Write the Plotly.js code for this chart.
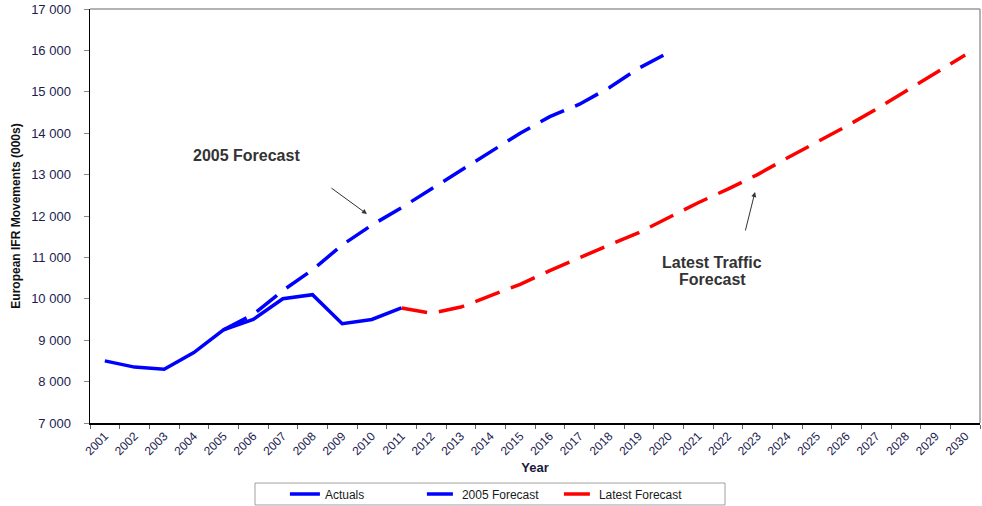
<!DOCTYPE html>
<html>
<head>
<meta charset="utf-8">
<script src="https://cdn.plot.ly/plotly-3.0.1.min.js"></script>
<style>html,body{margin:0;padding:0;background:#fff;}#chart{width:982px;height:506px;}</style>
</head>
<body>
<div id="chart"></div>
<script>
var years = ["2001","2002","2003","2004","2005","2006","2007","2008","2009","2010","2011","2012","2013","2014","2015","2016","2017","2018","2019","2020","2021","2022","2023","2024","2025","2026","2027","2028","2029","2030"];

var actualYears = ["2001","2002","2003","2004","2005","2006","2007","2008","2009","2010","2011"];
var actualValues = [8500, 8350, 8300, 8700, 9250, 9500, 10000, 10100, 9400, 9500, 9780];

var forecast2005Years = ["2005","2006","2007","2008","2009","2010","2011","2012","2013","2014","2015","2016","2017","2018","2019","2020"];
var forecast2005Values = [9250, 9620, 10200, 10700, 11300, 11780, 12200, 12650, 13100, 13570, 14000, 14400, 14700, 15100, 15570, 15950];

var latestYears = ["2011","2012","2013","2014","2015","2016","2017","2018","2019","2020","2021","2022","2023","2024","2025","2026","2027","2028","2029","2030"];
var latestValues = [9780, 9650, 9800, 10070, 10350, 10680, 11000, 11300, 11600, 11960, 12320, 12650, 13000, 13400, 13780, 14170, 14580, 15020, 15460, 15890];

var yTickValues = [7000, 8000, 9000, 10000, 11000, 12000, 13000, 14000, 15000, 16000, 17000];

var FONT = "Liberation Sans, Arial, sans-serif";
var DASH = "26px,12px";

var traces = [
  {x: actualYears, y: actualValues, name: "Actuals", type: "scatter", mode: "lines",
   line: {color: "#0000ff", width: 3.5}},
  {x: forecast2005Years, y: forecast2005Values, name: "2005 Forecast", type: "scatter", mode: "lines",
   line: {color: "#0000ff", width: 3.5, dash: DASH}},
  {x: latestYears, y: latestValues, name: "Latest Forecast", type: "scatter", mode: "lines",
   line: {color: "#ff0000", width: 3.5, dash: DASH}}
];

var layout = {
  width: 982, height: 506,
  margin: {l: 90, r: 2, t: 9, b: 83},
  paper_bgcolor: "#ffffff", plot_bgcolor: "#ffffff",
  font: {family: FONT, size: 12, color: "#1c1c50"},
  separators: ". ",
  showlegend: true,
  xaxis: {
    type: "category", categoryorder: "array", categoryarray: years,
    range: [-0.5, 29.5],
    tickson: "boundaries", ticks: "outside", ticklen: 4, tickcolor: "#666",
    tickangle: -45, tickfont: {family: FONT, size: 12, color: "#1c1c50"},
    showline: true, linecolor: "#000", linewidth: 1.5,
    showgrid: false, zeroline: false,
    title: {text: "<b>Year</b>", font: {family: FONT, size: 13, color: "#1a1a3a"}, standoff: 6}
  },
  yaxis: {
    range: [7000, 17000], tickvals: yTickValues, tickformat: ",d",
    ticks: "outside", ticklen: 5, tickcolor: "#888", ticklabelstandoff: 10,
    tickfont: {family: FONT, size: 13, color: "#1c1c50"},
    showline: true, linecolor: "#000", linewidth: 1.5,
    showgrid: false, zeroline: false,
    title: {text: "<b>European IFR Movements (000s)</b>", font: {family: FONT, size: 12, color: "#111"}, standoff: 8}
  },
  legend: {
    orientation: "h", xref: "paper", x: 0.219, xanchor: "left",
    yref: "container", y: 0.0237, yanchor: "middle",
    borderwidth: 0, bgcolor: "rgba(0,0,0,0)",
    font: {family: FONT, size: 12, color: "#1a1a1a"},
    entrywidth: 92
  },
  shapes: [
    {type: "line", xref: "paper", yref: "paper", x0: 0, x1: 1, y0: 1, y1: 1, line: {color: "#9a9a9a", width: 1.5}},
    {type: "line", xref: "paper", yref: "paper", x0: 1, x1: 1, y0: 0, y1: 1, line: {color: "#9a9a9a", width: 1.5}},
    {type: "rect", xref: "paper", yref: "paper", x0: 0.1854, x1: 0.7135, y0: -0.198, y1: -0.145,
     line: {color: "#a0a0a0", width: 1}, fillcolor: "rgba(0,0,0,0)"}
  ],
  annotations: [
    {xref: "paper", yref: "paper", x: 0.1764, y: 0.6473, xanchor: "center", yanchor: "middle",
     text: "<b>2005 Forecast</b>", showarrow: false, font: {family: FONT, size: 16, color: "#333"}},
    {xref: "paper", yref: "paper", x: 0.3112, y: 0.5048, text: "", showarrow: true,
     ax: -37, ay: -27, arrowhead: 2, arrowsize: 1, arrowwidth: 1, arrowcolor: "#333"},
    {xref: "paper", yref: "paper", x: 0.699, y: 0.387, xanchor: "center", yanchor: "middle",
     text: "<b>Latest Traffic</b>", showarrow: false, font: {family: FONT, size: 16, color: "#333"}},
    {xref: "paper", yref: "paper", x: 0.699, y: 0.347, xanchor: "center", yanchor: "middle",
     text: "<b>Forecast</b>", showarrow: false, font: {family: FONT, size: 16, color: "#333"}},
    {xref: "paper", yref: "paper", x: 0.7472, y: 0.558, text: "", showarrow: true,
     ax: -10, ay: 40, arrowhead: 2, arrowsize: 1, arrowwidth: 1, arrowcolor: "#333"}
  ]
};

Plotly.newPlot("chart", traces, layout, {displayModeBar: false, staticPlot: true});
</script>
</body>
</html>
